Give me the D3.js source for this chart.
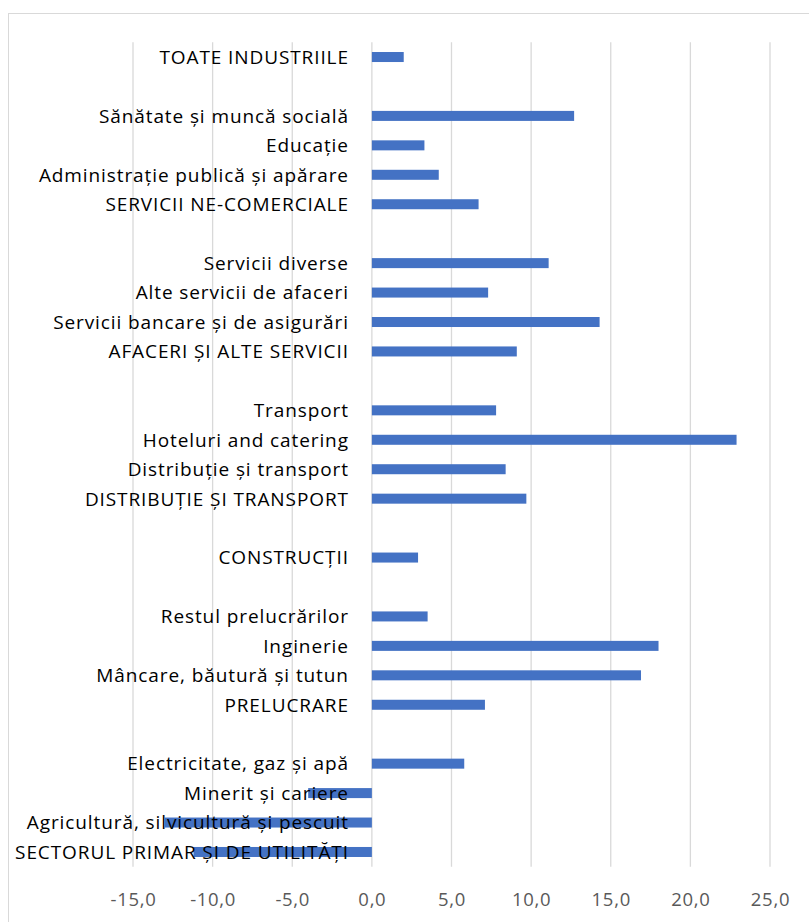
<!DOCTYPE html>
<html>
<head>
<meta charset="utf-8">
<script src="https://cdn.jsdelivr.net/npm/d3@7/dist/d3.min.js"></script>
<style>
  html, body { margin: 0; padding: 0; background: #fff; }
  svg { display: block; }
</style>
</head>
<body>
<svg id="chart" width="809" height="922"></svg>
<script>
const categories = [
  "TOATE INDUSTRIILE", "",
  "Sănătate și muncă socială", "Educație", "Administrație publică și apărare", "SERVICII NE-COMERCIALE", "",
  "Servicii diverse", "Alte servicii de afaceri", "Servicii bancare și de asigurări", "AFACERI ȘI ALTE SERVICII", "",
  "Transport", "Hoteluri and catering", "Distribuție și transport", "DISTRIBUȚIE ȘI TRANSPORT", "",
  "CONSTRUCȚII", "",
  "Restul prelucrărilor", "Inginerie", "Mâncare, băutură și tutun", "PRELUCRARE", "",
  "Electricitate, gaz și apă", "Minerit și cariere", "Agricultură, silvicultură și pescuit", "SECTORUL PRIMAR ȘI DE UTILITĂȚI"
];
const values = [
  2.0, null,
  12.7, 3.3, 4.2, 6.7, null,
  11.1, 7.3, 14.3, 9.1, null,
  7.8, 22.9, 8.4, 9.7, null,
  2.9, null,
  3.5, 18.0, 16.9, 7.1, null,
  5.8, -4.0, -13.0, -11.2
];
const xTicks = [-15, -10, -5, 0, 5, 10, 15, 20, 25];

(function () {
const svg = d3.select("#chart");
const font = "'Open Sans', sans-serif";

// chart border
svg.append("rect")
  .attr("x", 8.5).attr("y", 13.5)
  .attr("width", 900).attr("height", 1000)
  .attr("fill", "none").attr("stroke", "#d9d9d9").attr("stroke-width", 1);

const x = d3.scaleLinear().domain([-15, 25]).range([133, 770]);
const idx = categories.map((d, i) => i);
const plotTop = 42.3, plotBottom = 866.7;
const y = d3.scaleBand().domain(idx).range([plotTop, plotBottom]).paddingInner(0.66).paddingOuter(0.33);

// gridlines
svg.append("g").selectAll("line").data(xTicks).join("line")
  .attr("x1", d => x(d)).attr("x2", d => x(d))
  .attr("y1", plotTop).attr("y2", plotBottom)
  .attr("stroke", "#d9d9d9").attr("stroke-width", 1.3);

// bars
const data = idx.filter(i => values[i] !== null).map(i => ({i, v: values[i]}));
svg.append("g").selectAll("rect").data(data).join("rect")
  .attr("x", d => x(Math.min(0, d.v)))
  .attr("width", d => Math.abs(x(d.v) - x(0)))
  .attr("y", d => y(d.i))
  .attr("height", y.bandwidth())
  .attr("fill", "#4472C4");

// category labels
svg.append("g").selectAll("text").data(idx.filter(i => categories[i] !== "")).join("text")
  .attr("x", 348.9)
  .attr("y", i => y(i) + y.bandwidth() / 2)
  .attr("dy", "0.36em")
  .attr("text-anchor", "end")
  .attr("font-family", font)
  .attr("font-size", 19)
  .attr("letter-spacing", "0.9px")
  .attr("fill", "#000")
  .text(i => categories[i]);

// x axis
const axis = d3.axisBottom(x).tickValues(xTicks).tickSize(0).tickPadding(0)
  .tickFormat(d => d.toFixed(1).replace(".", ","));
const gx = svg.append("g").attr("transform", "translate(0,893)").call(axis);
gx.select(".domain").remove();
gx.selectAll("text")
  .attr("font-family", font)
  .attr("font-size", 18.5)
  .attr("letter-spacing", "0.7px")
  .attr("fill", "#595959");
})();
</script>
</body>
</html>
